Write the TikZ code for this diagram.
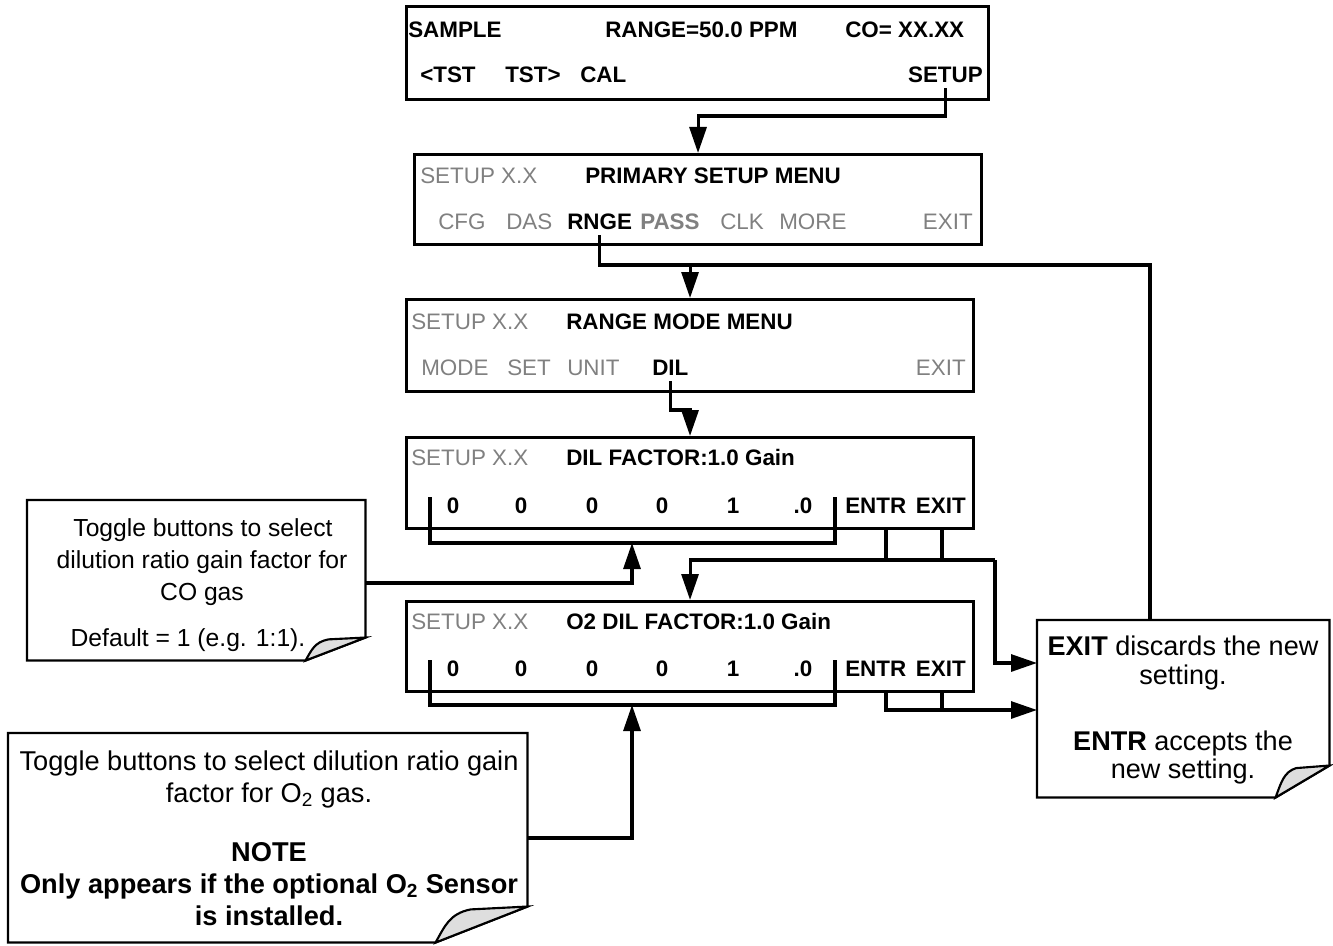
\documentclass[tikz,border=0pt]{standalone}
\usepackage{fontspec}
\setmainfont{Liberation Sans}
\usetikzlibrary{arrows.meta,calc}
\definecolor{txtgray}{RGB}{128,128,128}
\definecolor{foldgray}{RGB}{222,222,222}
\newcommand\foldnote[3]{%
  \coordinate (#1R) at ($(#1.south east)+(0,-#3)$);
  \coordinate (#1B) at ($(#1.south east)+(-#2,0)$);
  \draw[noteline] (#1.north west) -- (#1.north east) -- (#1R) -- (#1B) -- (#1.south west) -- cycle;
  \draw[noteline,fill=foldgray] (#1R) -- ($(#1R)+({-0.62*#2},{0.08*#3})$) .. controls ($(#1R)+({-0.85*#2},{0.2*#3})$) and ($(#1B)+({0.1*#2},{-0.45*#3})$) .. (#1B) -- cycle;
}
\begin{document}
\begin{tikzpicture}[x=0.75pt,y=-0.75pt,
  lcd/.style={draw, line width=2.3pt, inner sep=0pt, anchor=north west},
  note/.style={inner sep=0pt, anchor=north west},
  noteline/.style={line width=1.6pt, line join=miter},
  bt/.style={inner sep=0pt, anchor=base west, font=\fontsize{16.8}{20}\selectfont},
  btb/.style={bt, font=\fontsize{16.8}{20}\selectfont\bfseries},
  gr/.style={text=txtgray},
  ntA/.style={inner sep=0pt, anchor=base, font=\fontsize{18.5}{24}\selectfont},
  ntB/.style={inner sep=0pt, anchor=base, font=\fontsize{20.4}{24}\selectfont},
  ntBb/.style={inner sep=0pt, anchor=base, font=\fontsize{20.4}{24}\selectfont\bfseries},
  ntC/.style={inner sep=0pt, anchor=base, font=\fontsize{20.3}{24}\selectfont},
  wire/.style={draw, line width=2.3pt},
  wirearr/.style={draw, line width=2.3pt, -{Triangle[length=19.5pt,width=12.75pt]}}]
\useasboundingbox (0,0) rectangle (1333,945);

% ---------- LCD boxes ----------
\node[lcd, minimum width=436.5pt, minimum height=69.75pt] (b1) at (405,5) {};
\node[lcd, minimum width=425.25pt, minimum height=67.5pt] (b2) at (413,153) {};
\node[lcd, minimum width=425.25pt, minimum height=69pt] (b3) at (405,298) {};
\node[lcd, minimum width=425.25pt, minimum height=68.25pt] (b4) at (405,436) {};
\node[lcd, minimum width=425.25pt, minimum height=67.5pt] (b5) at (405,600) {};

% box 1
\node[btb] (t11) at (408,38) {SAMPLE};
\node[btb] (t12) at (605,38) {RANGE=50.0 PPM};
\node[btb] (t13) at (845,38) {CO= XX.XX};
\node[btb] (t14) at (420,83) {<TST};
\node[btb] (t15) at (505,83) {TST>};
\node[btb] (t16) at (580,83) {CAL};
\node[btb, anchor=base east] (setupk) at (983,83) {SETUP};

% box 2
\node[bt, gr] (t21) at (420,183) {SETUP X.X};
\node[btb] (t22) at (585,183) {PRIMARY SETUP MENU};
\node[bt, gr] (t23) at (438,229) {CFG};
\node[bt, gr] (t24) at (506,229) {DAS};
\node[btb] (rnge) at (567,229) {RNGE};
\node[btb, gr] (t25) at (640,229) {PASS};
\node[bt, gr] (t26) at (720,229) {CLK};
\node[bt, gr] (t27) at (779,229) {MORE};
\node[bt, gr, anchor=base east] (t28) at (973,229) {EXIT};

% box 3
\node[bt, gr] (t31) at (411,329) {SETUP X.X};
\node[btb] (t32) at (566,329) {RANGE MODE MENU};
\node[bt, gr] (t33) at (421,375) {MODE};
\node[bt, gr] (t34) at (507,375) {SET};
\node[bt, gr] (t35) at (567,375) {UNIT};
\node[btb] (dil) at (652,375) {DIL};
\node[bt, gr, anchor=base east] (t36) at (966,375) {EXIT};

% box 4
\node[bt, gr] (t41) at (411,465) {SETUP X.X};
\node[btb] (t42) at (566,465) {DIL FACTOR:1.0 Gain};
\node[btb, anchor=base] (d41) at (453,513) {0};
\node[btb, anchor=base] (d42) at (521,513) {0};
\node[btb, anchor=base] (d43) at (592,513) {0};
\node[btb, anchor=base] (d44) at (662,513) {0};
\node[btb, anchor=base] (d45) at (733,513) {1};
\node[btb, anchor=base] (d46) at (803,513) {.0};
\node[btb] (en4) at (845,513) {ENTR};
\node[btb, anchor=base east] (ex4) at (966,513) {EXIT};

% box 5
\node[bt, gr] (t51) at (411,629) {SETUP X.X};
\node[btb] (t52) at (566,629) {O2 DIL FACTOR:1.0 Gain};
\node[btb, anchor=base] (d51) at (453,676) {0};
\node[btb, anchor=base] (d52) at (521,676) {0};
\node[btb, anchor=base] (d53) at (592,676) {0};
\node[btb, anchor=base] (d54) at (662,676) {0};
\node[btb, anchor=base] (d55) at (733,676) {1};
\node[btb, anchor=base] (d56) at (803,676) {.0};
\node[btb] (en5) at (845,676) {ENTR};
\node[btb, anchor=base east] (ex5) at (966,676) {EXIT};

% ---------- notes ----------
\node[note, minimum width=253.5pt, minimum height=120pt] (n1) at (27,500) {};
\node[note, minimum width=389.25pt, minimum height=156.75pt] (n2) at (8,733) {};
\node[note, minimum width=219pt, minimum height=132.75pt] (n3) at (1037,620) {};
\foldnote{n1}{60}{23}
\foldnote{n2}{92}{36}
\foldnote{n3}{54}{32}

\node[ntA] (l11) at (203,536) {Toggle buttons to select};
\node[ntA] (l12) at (202,568) {dilution ratio gain factor for};
\node[ntA] (l13) at (202,600) {CO gas};
\node[ntA] (l14) at (188,646) {Default = 1 (e.g. 1:1).};

\node[ntB] (l21) at (269,770) {Toggle buttons to select dilution ratio gain};
\node[ntB] (l22) at (269,802) {factor for O\textsubscript{2} gas.};
\node[ntBb] (l23) at (269,861) {NOTE};
\node[ntBb] (l24) at (269,893) {Only appears if the optional O\textsubscript{2} Sensor};
\node[ntBb] (l25) at (269,925) {is installed.};

\node[ntC] (l31) at (1183,655) {\textbf{EXIT} discards the new};
\node[ntC] (l32) at (1183,684) {setting.};
\node[ntC] (l33) at (1183,750) {\textbf{ENTR} accepts the};
\node[ntC] (l34) at (1183,778) {new setting.};

% ---------- helper coordinates ----------
\coordinate (s1) at ($(setupk.south)+(0,5)$);
\coordinate (s2) at ($(rnge.south)+(0,6)$);
\coordinate (s3) at ($(dil.south)+(0,6)$);
\coordinate (j1) at (0,116);
\coordinate (j2) at (0,265);
\coordinate (xR) at (1150,0);
\coordinate (j3) at (0,410);
\coordinate (bl4) at (430,497);
\coordinate (br4) at (835,497);
\coordinate (j4) at (0,543);
\coordinate (xA) at (632,0);
\coordinate (yA) at (0,583);
\coordinate (xEn) at (886,0);
\coordinate (xEx) at (942,0);
\coordinate (j5) at (0,560);
\coordinate (xD) at (995,0);
\coordinate (yD) at (0,663);
\coordinate (bl5) at (430,660);
\coordinate (br5) at (835,660);
\coordinate (j6) at (0,705);
\coordinate (yB) at (0,838);
\coordinate (j7) at (0,710);

% ---------- connectors ----------
\draw[wirearr] (s1) |- (b2.north |- j1) -- (b2.north);
\draw[wire] (s2) |- (xR |- j2) -- (xR |- n3.north);
\draw[wirearr] (b3.north |- j2) -- (b3.north);
\draw[wirearr] (s3) |- (b4.north |- j3) -- (b4.north);

\draw[wire] (bl4) |- (br4 |- j4) -- (br4);
\draw[wirearr] (n1.east |- yA) -| (xA |- j4);
\draw[wire] (b4.south -| xEn) -- (xEn |- j5);
\draw[wire] (b4.south -| xEx) -- (xEx |- j5);
\draw[wirearr] (xD |- j5) -- (b5.north |- j5) -- (b5.north);
\draw[wirearr] (xD |- j5) |- (n3.west |- yD);

\draw[wire] (bl5) |- (br5 |- j6) -- (br5);
\draw[wirearr] (n2.east |- yB) -| (xA |- j6);
\draw[wire] (b5.south -| xEx) -- (xEx |- j7);
\draw[wirearr] (b5.south -| xEn) |- (n3.west |- j7);
\end{tikzpicture}
\end{document}
